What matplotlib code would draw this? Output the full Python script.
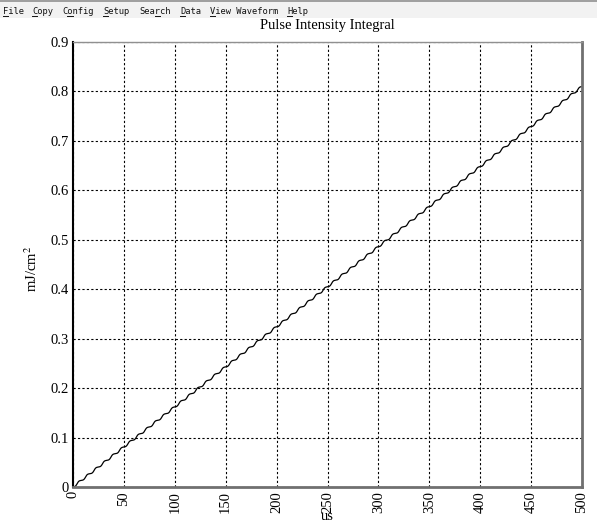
import numpy as np
import matplotlib.pyplot as plt
from matplotlib.patches import Rectangle
from matplotlib.lines import Line2D

plt.rcParams['mathtext.fontset'] = 'stix'

# Pulse train (us) and fluence added by each pulse (mJ/cm^2)
pulse_times = [4.0, 12.3, 20.7, 29.0, 37.3, 45.7, 54.0, 62.3, 70.7, 79.0,
               87.3, 95.7, 104.0, 112.3, 120.7, 129.0, 137.3, 145.7, 154.0, 162.3,
               170.7, 179.0, 187.3, 195.7, 204.0, 212.3, 220.7, 229.0, 237.3, 245.7,
               254.0, 262.3, 270.7, 279.0, 287.3, 295.7, 304.0, 312.3, 320.7, 329.0,
               337.3, 345.7, 354.0, 362.3, 370.7, 379.0, 387.3, 395.7, 404.0, 412.3,
               420.7, 429.0, 437.3, 445.7, 454.0, 462.3, 470.7, 479.0, 487.3, 495.7]
fluence_per_pulse = 0.0135
pulse_width = 1.8

x_ticks = [0, 50, 100, 150, 200, 250, 300, 350, 400, 450, 500]
y_ticks = [0, 0.1, 0.2, 0.3, 0.4, 0.5, 0.6, 0.7, 0.8, 0.9]
y_tick_labels = ['0', '0.1', '0.2', '0.3', '0.4', '0.5', '0.6', '0.7', '0.8', '0.9']
menu_items = ['File', 'Copy', 'Config', 'Setup', 'Search', 'Data', 'View Waveform', 'Help']
menu_x = [3, 32, 62, 103, 139, 180, 210, 287]
menu_underline = [0, 0, 1, 0, 3, 0, 0, 0]

# integral of the pulse intensity: sum of smoothed steps
t = np.linspace(0, 500, 2001)
integral = np.zeros_like(t)
for tp in pulse_times:
    integral += fluence_per_pulse * 0.5 * (1 + np.tanh((t - tp) / pulse_width))
integral -= integral[0]

W, H = 597, 522
fig = plt.figure(figsize=(W / 100, H / 100), dpi=100)
fig.patch.set_facecolor('white')

# menu bar
fig.patches.append(Rectangle((0, 1 - 18 / H), 1, 18 / H, transform=fig.transFigure,
                             facecolor='#f2f2f2', edgecolor='none'))
fig.patches.append(Rectangle((0, 1 - 2 / H), 1, 2 / H, transform=fig.transFigure,
                             facecolor='#a0a0a0', edgecolor='none'))
char_w = 0.602 * 6.3 * 100 / 72
for name, mx, ui in zip(menu_items, menu_x, menu_underline):
    fig.text(mx / W, 1 - 11 / H, name, fontsize=6.3, family='DejaVu Sans Mono',
             va='center', ha='left', color='#111111')
    x0 = mx + ui * char_w
    fig.lines.append(Line2D([x0 / W, (x0 + char_w) / W], [1 - 15.5 / H, 1 - 15.5 / H],
                            transform=fig.transFigure, color='#111111', lw=0.7))

ax = fig.add_axes([73 / W, 1 - 487 / H, (582 - 73) / W, (487 - 42) / H])
ax.plot(t, integral, color='black', lw=0.9)

ax.set_xlim(0, 500)
ax.set_ylim(0, 0.9)
ax.set_xticks(x_ticks)
ax.set_xticklabels([str(v) for v in x_ticks], rotation=90, family='Liberation Serif', fontsize=10.5)
ax.set_yticks(y_ticks)
ax.set_yticklabels(y_tick_labels, family='Liberation Serif', fontsize=10.5)
ax.tick_params(length=0, pad=3)
ax.grid(True, color='black', linestyle=(0, (2, 2)), lw=0.8)

ax.spines['left'].set_color('black')
ax.spines['left'].set_linewidth(1.5)
ax.spines['bottom'].set_color('#707070')
ax.spines['bottom'].set_linewidth(2)
ax.spines['right'].set_color('#707070')
ax.spines['right'].set_linewidth(2)
ax.spines['top'].set_color('#909090')
ax.spines['top'].set_linewidth(1)

fig.text(327 / W, 1 - 25 / H, 'Pulse Intensity Integral', family='Liberation Serif',
         fontsize=10.5, ha='center', va='center')
fig.text(32 / W, 1 - 269 / H, 'mJ/cm$^{2}$', family='Liberation Serif', fontsize=10.5,
         rotation=90, ha='center', va='center')
fig.text(327 / W, 1 - 516 / H, 'us', family='Liberation Serif', fontsize=10.5,
         ha='center', va='center')

fig.savefig('out.png', dpi=100)
